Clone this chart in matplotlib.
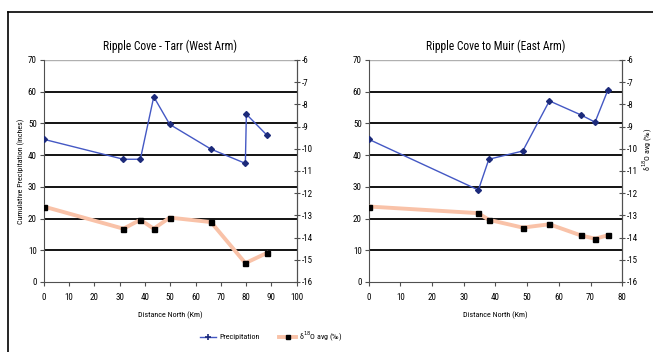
import matplotlib
matplotlib.use("Agg")
import matplotlib.pyplot as plt
from matplotlib.lines import Line2D
from matplotlib import font_manager

# pick a narrow face if one is installed
names = {f.name for f in font_manager.fontManager.ttflist}
family = 'Liberation Sans'
for cand in ['Liberation Sans Narrow', 'Roboto Condensed', 'Open Sans Condensed', 'DejaVu Sans Condensed']:
    if cand in names:
        family = cand
        break
plt.rcParams['font.family'] = [family, 'DejaVu Sans']
plt.rcParams['font.stretch'] = 'condensed'
plt.rcParams['axes.unicode_minus'] = False

# West Arm (Ripple Cove - Tarr)
west_dist = [0, 31.5, 38.2, 43.5, 49.8, 66.1, 79.7, 80.1, 88.1]
west_precip = [45.0, 38.7, 38.7, 58.4, 49.7, 41.9, 37.4, 52.9, 46.4]
west_d18_dist = [0, 31.5, 38.2, 43.5, 49.8, 66.1, 79.7, 88.1]
west_d18 = [-12.6, -13.6, -13.2, -13.6, -13.1, -13.3, -15.15, -14.7]

# East Arm (Ripple Cove to Muir)
east_dist = [0, 34.6, 37.9, 48.6, 57.0, 66.9, 71.4, 75.4]
east_precip = [45.0, 29.0, 38.7, 41.3, 57.1, 52.7, 50.4, 60.4]
east_d18 = [-12.6, -12.9, -13.2, -13.55, -13.4, -13.9, -14.05, -13.9]

titles = ["Ripple Cove - Tarr (West Arm)", "Ripple Cove to Muir (East Arm)"]
xmax = [100, 80]

fig = plt.figure(figsize=(6.53, 3.52), dpi=100)

# outer frame
fig.add_artist(Line2D([8/653, 8/653], [0, 1-12/352], color='black', lw=1.2))
fig.add_artist(Line2D([8/653, 1], [1-12/352, 1-12/352], color='black', lw=1.2))

positions = [[0.0669, 0.1989, 0.3875, 0.6307], [0.5646, 0.1989, 0.3884, 0.6307]]
data = [(west_dist, west_precip, west_d18_dist, west_d18),
        (east_dist, east_precip, east_dist, east_d18)]

blue = '#4458c4'
navy = '#1c2a7a'
salmon = '#f9c2a8'
spine_col = '#505050'
fs = 6.5
lfs = 5.8

for i in range(2):
    d, p, dd, o = data[i]
    ax = fig.add_axes(positions[i])
    ax2 = ax.twinx()

    for g in range(10, 70, 10):
        ax.axhline(g, color='black', lw=1.3, zorder=0)
    ax.axhline(70, color='#b0b0b0', lw=1.0, zorder=0)

    ax.plot(d, p, color=blue, lw=1.0, marker='D', markersize=3.0,
            markerfacecolor=navy, markeredgecolor=navy, zorder=3)
    ax2.plot(dd, o, color=salmon, lw=2.8, zorder=2)
    ax2.plot(dd, o, ls='none', marker='s', markersize=3.6, color='black', zorder=3)

    ax.set_xlim(0, xmax[i])
    ax.set_ylim(0, 70)
    ax2.set_ylim(-16, -6)
    ax.set_xticks(range(0, xmax[i] + 1, 10))
    ax.set_yticks(range(0, 71, 10))
    ax2.set_yticks(range(-16, -5, 1))

    for a in (ax, ax2):
        a.spines['top'].set_visible(False)
        for s in ('left', 'right', 'bottom'):
            a.spines[s].set_color(spine_col)
            a.spines[s].set_linewidth(0.8)
    ax2.spines['left'].set_visible(False)
    ax2.spines['bottom'].set_visible(False)

    ax.tick_params(axis='both', labelsize=fs, length=3, width=0.8, color=spine_col, pad=2)
    ax.tick_params(axis='x', pad=5)
    ax2.tick_params(axis='y', labelsize=fs, length=5, width=0.8, color=spine_col,
                    direction='inout', pad=1)

    ax.set_title(titles[i], fontsize=8.3, pad=7)
    ax.set_xlabel("Distance North (Km)", fontsize=lfs)
    ax.xaxis.set_label_coords(0.5, -0.13)
    if i == 0:
        ax.set_ylabel("Cumulative Precipitation (inches)", fontsize=lfs)
        ax.yaxis.set_label_coords(-0.074, 0.5)
    else:
        ax2.set_ylabel("δ$^{18}$O avg (‰)", fontsize=lfs, rotation=90)
        ax2.yaxis.set_label_coords(1.07, 0.6)

handles = [Line2D([], [], color=blue, lw=1.0, marker='+', markersize=4,
                  markeredgecolor=navy, markeredgewidth=1.2),
           Line2D([], [], color=salmon, lw=2.8, marker='s', markersize=3.4,
                  markerfacecolor='black', markeredgecolor='black')]
fig.legend(handles, ["Precipitation", "δ$^{18}$O avg (‰)"], loc='center',
           bbox_to_anchor=(0.415, 0.045), ncol=2, frameon=False, fontsize=lfs,
           handlelength=2.0, columnspacing=2.5, handletextpad=0.4)

fig.savefig("out.png", dpi=100)
